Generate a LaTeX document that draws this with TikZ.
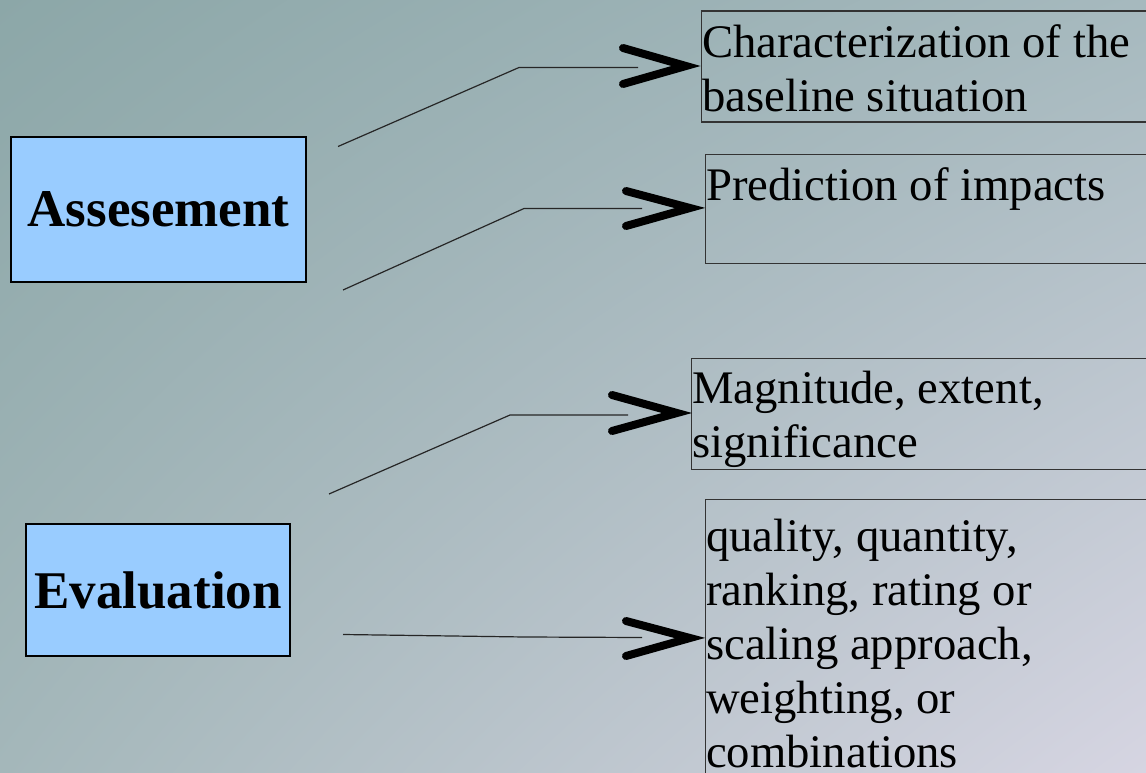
\documentclass[tikz,border=0pt]{standalone}
\usepackage{fontspec}
\setmainfont{Liberation Serif}
\usetikzlibrary{shadings}
\definecolor{boxblue}{HTML}{99CCFF}
\definecolor{bgUL}{RGB}{140,167,168}
\definecolor{bgUR}{RGB}{166,185,190}
\definecolor{bgLL}{RGB}{164,183,186}
\definecolor{bgLR}{RGB}{214,213,226}
\definecolor{rline}{HTML}{333333}
\begin{document}
\begin{tikzpicture}[x=1pt,y=-1pt,
  leftbox/.style={draw=black, line width=1.8pt, fill=boxblue, inner sep=0pt,
    font=\fontsize{53}{60}\selectfont\bfseries},
  rbox/.style={draw=rline, line width=1.2pt, inner sep=0pt, anchor=north west},
  rtext/.style={inner sep=0pt, anchor=north west, align=left,
    font=\fontsize{46.7}{54}\selectfont},
  conn/.style={draw=black!85, line width=1.2pt},
  chevron/.style={draw=black, line width=8pt, line join=miter, line cap=round}
]
\useasboundingbox (0pt,0pt) rectangle (1146pt,-773pt);
\clip (0pt,0pt) rectangle (1146pt,-773pt);
\shade[upper left=bgUL, upper right=bgUR, lower left=bgLL, lower right=bgLR]
  (0pt,0pt) rectangle (1146pt,-773pt);

% left boxes
\node[leftbox, minimum width=295pt, minimum height=145pt] (ass) at (158.5,209.5) {Assesement};
\node[leftbox, minimum width=264pt, minimum height=132pt] (eva) at (158,590) {Evaluation};

% right boxes
\node[rbox, minimum width=470pt, minimum height=111pt] (r1) at (701,10.5) {};
\node[rbox, minimum width=470pt, minimum height=109pt] (r2) at (705,154) {};
\node[rbox, minimum width=470pt, minimum height=111pt] (r3) at (691,358) {};
\node[rbox, minimum width=470pt, minimum height=300pt] (r4) at (705,498.5) {};

\node[rtext] (t1) at (702,19.2) {\strut Characterization of the\\baseline situation};
\node[rtext] (t2) at (706,162.2) {\strut Prediction of impacts};
\node[rtext] (t3) at (692,365.2) {\strut Magnitude, extent,\\significance};
\node[rtext] (t4) at (706,513.2) {\strut quality, quantity,\\ranking, rating or\\scaling approach,\\weighting, or\\combinations};

% connector points
\coordinate (s1) at (338,146.5);
\coordinate (b1) at (519,67.5);
\coordinate (e1) at (638,67.5);
\coordinate (s2) at (343,290);
\coordinate (b2) at (524,208.5);
\coordinate (e2) at (642,208.5);
\coordinate (s3) at (329,494);
\coordinate (b3) at (510,415);
\coordinate (e3) at (628,415);
\coordinate (s4) at (343,634.5);
\coordinate (b4) at (525,637);
\coordinate (e4) at (642,637.5);

\draw[conn] (s1) -- (b1) -- (e1);
\draw[conn] (s2) -- (b2) -- (e2);
\draw[conn] (s3) -- (b3) -- (e3);
\draw[conn] (s4) -- (b4) -- (e4);

% chevrons
\draw[chevron] (623,48) -- (686,66) -- (623,84);
\draw[chevron] (626,191) -- (690,208) -- (626,226);
\draw[chevron] (612,395) -- (677,413) -- (612,431);
\draw[chevron] (626,621) -- (690,638) -- (626,656);
\end{tikzpicture}
\end{document}
